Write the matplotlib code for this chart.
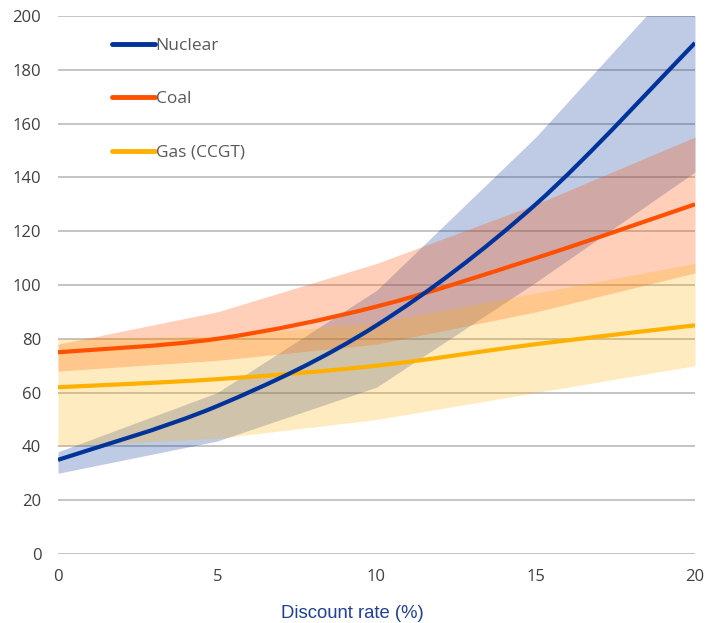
import numpy as np
import matplotlib
matplotlib.use('Agg')
import matplotlib.pyplot as plt
from matplotlib.path import Path
from matplotlib.patches import PathPatch

# Discount rate (%) and cost values
rates = [0, 5, 10, 15, 20]

nuclear = [35, 55, 85, 130, 190]
nuclear_low = [30, 42, 62, 101, 142]
nuclear_high = [38, 60, 98, 155, 220]

coal = [75, 80, 92, 110, 130]
coal_low = [68, 72, 78, 90, 104.5]
coal_high = [78, 90, 108, 130, 155]

gas = [62, 65, 70, 78, 85]
gas_low = [40, 43, 50, 60, 70]
gas_high = [80, 81, 86, 97, 108]

labels = ['Nuclear', 'Coal', 'Gas (CCGT)']
colors = ['#003399', '#FF5000', '#FFB000']


# Smooth line like Excel: cubic bezier through each data point
def smooth_path(xs, ys):
    pts = np.column_stack([xs, ys]).astype(float)
    n = len(pts)
    verts = [pts[0]]
    codes = [Path.MOVETO]
    for i in range(n - 1):
        p0 = pts[max(i - 1, 0)]
        p1 = pts[i]
        p2 = pts[i + 1]
        p3 = pts[min(i + 2, n - 1)]
        c1 = p1 + (p2 - p0) / 6
        c2 = p2 - (p3 - p1) / 6
        verts += [c1, c2, p2]
        codes += [Path.CURVE4] * 3
    return Path(verts, codes)


fig = plt.figure(figsize=(7.08, 6.23), dpi=100)
ax = fig.add_axes([58 / 708, 1 - 554 / 623, 637 / 708, 538 / 623])

series = [
    (nuclear, nuclear_low, nuclear_high, 0.25),
    (coal, coal_low, coal_high, 0.27),
    (gas, gas_low, gas_high, 0.25),
]

for (mid, low, high, a), col in zip(series, colors):
    ax.fill_between(rates, low, high, color=col, alpha=a, lw=0, zorder=2)

# draw lines in reverse so nuclear sits on top
for (mid, low, high, a), col, lab in list(zip(series, colors, labels))[::-1]:
    patch = PathPatch(smooth_path(rates, mid), fill=False, edgecolor=col,
                      lw=3, capstyle='butt', zorder=3, transform=ax.transData)
    ax.add_patch(patch)

# legend handles
handles = [plt.Line2D([], [], color=c, lw=3.5, solid_capstyle='round') for c in colors]
leg = ax.legend(handles, labels, loc='upper left', bbox_to_anchor=(0.085, 0.96),
                frameon=False, borderpad=0, borderaxespad=0, handlelength=2.45,
                handletextpad=0.05, labelspacing=2.15,
                prop={'family': 'Open Sans', 'size': 12.5})
for t in leg.get_texts():
    t.set_color('#595959')

ax.set_xlim(0, 20)
ax.set_ylim(0, 200)
ax.set_xticks(rates)
ax.set_yticks(np.arange(0, 201, 20))
ax.grid(axis='y', color='#BFBFBF', lw=1.3, zorder=1)
ax.set_axisbelow(True)
for s in ax.spines.values():
    s.set_visible(False)
ax.tick_params(length=0, labelsize=12, labelcolor='#404040')
ax.tick_params(axis='y', pad=12)
ax.tick_params(axis='x', pad=11)
for lbl in ax.get_xticklabels() + ax.get_yticklabels():
    lbl.set_family('Open Sans')

ax.set_xlabel('Discount rate (%)', color='#1F3F99', fontsize=13.3,
              family='Liberation Sans')
ax.xaxis.set_label_coords((352 - 58) / 637, -(614 - 554) / 538)
ax.xaxis.label.set_va('center')

fig.savefig('out.png', dpi=100)
